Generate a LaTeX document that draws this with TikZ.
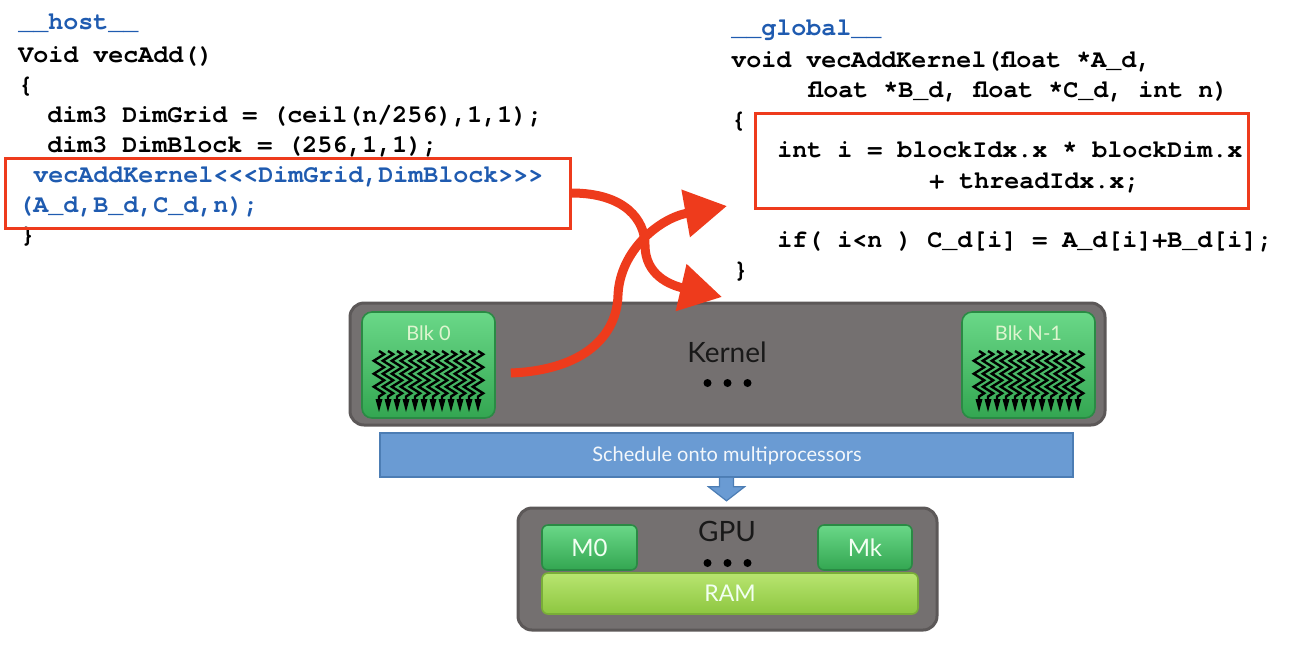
\documentclass[tikz,border=0pt]{standalone}
\usepackage{fontspec}
\newfontfamily\codefont{texgyrecursor}[Extension=.otf,UprightFont=*-regular,BoldFont=*-bold]
\newfontfamily\labfont{Lato}
\usetikzlibrary{arrows.meta,decorations.pathmorphing,calc}
\definecolor{codeblue}{HTML}{1F5BB0}
\definecolor{redline}{HTML}{EE3B1C}
\definecolor{kgray}{HTML}{747070}
\definecolor{kgrayd}{HTML}{5C5858}
\definecolor{gtop}{HTML}{6AD888}
\definecolor{gbot}{HTML}{33A651}
\definecolor{gdraw}{HTML}{2A8A44}
\definecolor{barblue}{HTML}{6A9BD3}
\definecolor{barblued}{HTML}{4C7DB4}
\definecolor{ramtop}{HTML}{B8E570}
\definecolor{rambot}{HTML}{8DC640}
\definecolor{ramdraw}{HTML}{79AD38}
\definecolor{blktext}{HTML}{DDF5CF}
\tikzset{
  code/.style={anchor=base west, inner sep=0pt, text=black,
    font=\codefont\bfseries\fontsize{12.5}{15}\selectfont},
  redbox/.style={draw=redline, line width=1.5pt, inner sep=0pt},
  graybox/.style={rounded corners=7pt, fill=kgray, draw=kgrayd, line width=1.5pt, inner sep=0pt},
  greenbox/.style={rounded corners=5pt, top color=gtop, bottom color=gbot, draw=gdraw, line width=0.8pt, inner sep=0pt},
  rambox/.style={rounded corners=3pt, top color=ramtop, bottom color=rambot, draw=ramdraw, line width=0.8pt, inner sep=0pt},
  thread/.style={line width=1.2pt, decorate, decoration={zigzag, amplitude=2.6pt, segment length=6.5pt}},
  bigarrow/.style={draw=redline, line width=4.5pt, -{Triangle[length=21pt,width=23pt,fill=redline]}},
  lab/.style={inner sep=0pt, font=\labfont}
}
\begin{document}
\begin{tikzpicture}[x=0.5pt,y=-0.5pt]
\useasboundingbox (0,0) rectangle (1290,645);

% ---- host code ----
\node[code, text=codeblue] (h1) at (18,29) {\_\_host\_\_};
\node[code] (h2) at (18,62) {Void vecAdd()};
\node[code] (h3) at (18,92) {\{};
\node[code] (h4) at (47,122) {dim3 DimGrid = (ceil(n/256),1,1);};
\node[code] (h5) at (47,152) {dim3 DimBlock = (256,1,1);};
\node[code, text=codeblue] (h6) at (33,182) {vecAddKernel<{}<{}<DimGrid,DimBlock>{}>{}>};
\node[code, text=codeblue] (h7) at (18,212) {(A\_d,B\_d,C\_d,n);};
\node[code] (h8) at (20,242) {\}};
\node[redbox, minimum width=282.5pt, minimum height=35pt] (launch) at (287.5,193) {};

% ---- kernel code ----
\node[code, text=codeblue] (g1) at (731,35) {\_\_global\_\_};
\node[code] (g2) at (731,67) {void vecAddKernel(float *A\_d,};
\node[code] (g3) at (808,97) {float *B\_d, float *C\_d, int n)};
\node[code] (g4) at (731,127) {\{};
\node[code] (g5) at (777,157) {int i = blockIdx.x * blockDim.x};
\node[code] (g6) at (929,188) {+ threadIdx.x;};
\node[code] (g7) at (777,247) {if( i<n ) C\_d[i] = A\_d[i]+B\_d[i];};
\node[code] (g8) at (733,277) {\}};
\node[redbox, minimum width=246.5pt, minimum height=47.5pt] (idx) at (1001.5,160.5) {};

% ---- kernel box ----
\node[graybox, minimum width=377.5pt, minimum height=61pt] (kernel) at (727.5,364) {};
\node[lab, font=\labfont\fontsize{14}{16}\selectfont, text=black!90] (klab) at (727,352) {Kernel};
\foreach \dx in {-20,0,20} \fill ($(kernel.center)+(\dx,19)$) circle (2pt);

\node[greenbox, minimum width=66.5pt, minimum height=53pt] (blk0) at (428.5,365) {};
\node[greenbox, minimum width=66.5pt, minimum height=53pt] (blkn) at (1028.5,365) {};
\node[lab, font=\labfont\fontsize{10}{12}\selectfont, text=blktext] (b0lab) at (428.5,333) {Blk 0};
\node[lab, font=\labfont\fontsize{10}{12}\selectfont, text=blktext] (bnlab) at (1028.5,333) {Blk N-1};
\foreach \b in {blk0,blkn}{
  \foreach \k in {0,...,11}{
    \draw[thread] ($(\b.center)+(-49.5+9*\k,-14)$) -- ++(0,49);
    \fill ($(\b.center)+(-53+9*\k,34)$) -- ++(7,0) -- ++(-3.5,13) -- cycle;
  }
}

% ---- schedule bar ----
\node[fill=barblue, draw=barblued, line width=0.8pt, minimum width=346.5pt, minimum height=22pt, inner sep=0pt] (bar) at (726.5,455) {};
\node[lab, font=\labfont\fontsize{10}{12}\selectfont, text=white!92!barblue] (barlab) at (727,456) {Schedule onto multiprocessors};
\draw[fill=barblue, draw=barblued, line width=0.6pt]
  ($(bar.south)+(-7,0)$) -- ++(0,9) -- ++(-11,0) -- ($(bar.south)+(0,23)$)
  -- ($(bar.south)+(18,9)$) -- ++(-11,0) -- ++(0,-9);

% ---- GPU box ----
\node[graybox, minimum width=209.5pt, minimum height=61pt] (gpu) at (727.5,569) {};
\node[lab, font=\labfont\fontsize{14}{16}\selectfont, text=black!90] (gpulab) at (727,531) {GPU};
\foreach \dx in {-20,0,20} \fill ($(gpu.center)+(\dx,-6)$) circle (2pt);
\node[greenbox, rounded corners=3pt, minimum width=47.5pt, minimum height=22.5pt] (m0) at (589.5,547.5) {};
\node[greenbox, rounded corners=3pt, minimum width=47pt, minimum height=22.5pt] (mk) at (865,547.5) {};
\node[lab, font=\labfont\fontsize{12}{14}\selectfont, text=white!95!green] at (m0.center) {M0};
\node[lab, font=\labfont\fontsize{12}{14}\selectfont, text=white!95!green] at (mk.center) {Mk};
\node[rambox, minimum width=188pt, minimum height=20.5pt] (ram) at (730,593.5) {};
\node[lab, font=\labfont\fontsize{11.5}{13}\selectfont, text=white!95!green] at (ram.center) {RAM};

% ---- red curved arrows ----
\coordinate (t1) at (722,297);
\coordinate (t2) at (727,206);
\coordinate (s2) at ($(blk0.east)+(15,8)$);
\draw[bigarrow] (launch.east) .. controls (625,193) and (645,220) .. (645,245)
  .. controls (645,275) and (670,285) .. (t1);
\draw[bigarrow] (s2) .. controls (585,370) and (617,335) .. (618,295)
  .. controls (620,250) and (660,218) .. (t2);
\end{tikzpicture}
\end{document}
